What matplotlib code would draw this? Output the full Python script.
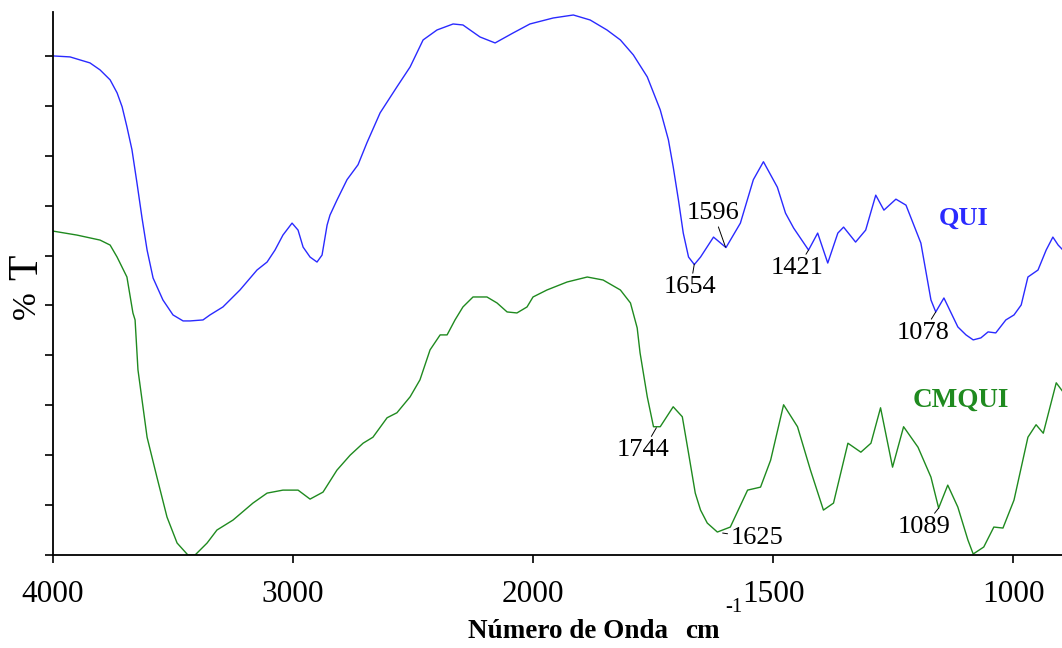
import numpy as np
import matplotlib
matplotlib.use("Agg")
import matplotlib.pyplot as plt

plt.rcParams["font.family"] = ["Liberation Serif", "DejaVu Serif"]

# -----------------------------
# Data
# -----------------------------
qui_wn = [4000, 3929, 3846, 3804, 3762, 3733, 3712, 3692, 3671, 3650, 3629, 3608,
          3583, 3542, 3500, 3458, 3429, 3375, 3346, 3292, 3221, 3150, 3108, 3075,
          3042, 3004, 2979, 2958, 2929, 2900, 2879, 2858, 2846, 2817, 2775, 2729,
          2692, 2637, 2567, 2512, 2458, 2400, 2333, 2292, 2221, 2158, 2083, 2013,
          1958, 1916, 1881, 1846, 1818, 1791, 1762, 1735, 1718, 1708, 1697, 1687,
          1676, 1664, 1651, 1624, 1598, 1568, 1541, 1520, 1491, 1474, 1457, 1426,
          1407, 1386, 1365, 1353, 1328, 1307, 1286, 1269, 1244, 1223, 1192, 1171,
          1161, 1144, 1115, 1098, 1083, 1067, 1052, 1036, 1015, 998, 983, 969,
          948, 931, 917, 906, 896]
qui_t = [10.00, 9.98, 9.86, 9.72, 9.52, 9.26, 8.98, 8.58, 8.12, 7.45, 6.75, 6.11,
         5.55, 5.11, 4.81, 4.69, 4.69, 4.71, 4.81, 4.97, 5.31, 5.71, 5.87, 6.11,
         6.41, 6.65, 6.51, 6.17, 5.97, 5.87, 6.01, 6.61, 6.81, 7.11, 7.52, 7.82,
         8.26, 8.86, 9.38, 9.78, 10.32, 10.52, 10.64, 10.62, 10.38, 10.26, 10.46, 10.64,
         10.76, 10.82, 10.72, 10.52, 10.32, 10.02, 9.58, 8.92, 8.32, 7.78, 7.11, 6.45,
         5.97, 5.82, 5.97, 6.37, 6.16, 6.65, 7.52, 7.88, 7.37, 6.85, 6.55, 6.11,
         6.45, 5.85, 6.45, 6.57, 6.27, 6.51, 7.21, 6.91, 7.13, 7.01, 6.25, 5.11,
         4.87, 5.15, 4.57, 4.41, 4.31, 4.35, 4.47, 4.45, 4.71, 4.81, 5.01, 5.57,
         5.71, 6.11, 6.37, 6.21, 6.11]

cmqui_wn = [4000, 3900, 3804, 3762, 3733, 3692, 3667, 3658, 3646, 3608, 3567, 3525,
            3483, 3438, 3408, 3358, 3317, 3250, 3167, 3108, 3042, 2979, 2929, 2875,
            2817, 2762, 2708, 2667, 2608, 2567, 2512, 2471, 2429, 2387, 2358, 2325,
            2292, 2250, 2192, 2150, 2108, 2067, 2025, 2000, 1971, 1929, 1887, 1854,
            1818, 1797, 1783, 1777, 1762, 1749, 1735, 1708, 1689, 1676, 1662, 1651,
            1637, 1616, 1589, 1553, 1526, 1505, 1478, 1449, 1422, 1395, 1374, 1344,
            1317, 1296, 1276, 1251, 1228, 1198, 1171, 1155, 1136, 1115, 1094, 1083,
            1061, 1040, 1021, 998, 969, 952, 937, 910, 896]
cmqui_t = [6.49, 6.41, 6.31, 6.21, 5.97, 5.57, 4.85, 4.71, 3.71, 2.36, 1.56, 0.76,
           0.24, 0.00, 0.00, 0.24, 0.50, 0.70, 1.04, 1.24, 1.30, 1.30, 1.12, 1.26,
           1.70, 2.00, 2.24, 2.36, 2.75, 2.85, 3.17, 3.51, 4.11, 4.41, 4.41, 4.71,
           4.97, 5.17, 5.17, 5.05, 4.87, 4.85, 4.97, 5.17, 5.31, 5.47, 5.57, 5.51,
           5.31, 5.05, 4.55, 4.05, 3.17, 2.57, 2.57, 2.97, 2.77, 2.04, 1.24, 0.90,
           0.64, 0.46, 0.56, 1.30, 1.36, 1.90, 3.01, 2.57, 1.70, 0.90, 1.04, 2.24,
           2.06, 2.24, 2.95, 1.76, 2.57, 2.16, 1.56, 0.94, 1.40, 0.96, 0.30, 0.02,
           0.16, 0.56, 0.54, 1.10, 2.36, 2.61, 2.44, 3.45, 3.27]

# peak labels: text, point on curve, text position
peak_labels = ["1654", "1596", "1421", "1078", "1744", "1625", "1089"]
peak_xy = [(1664, 5.83), (1599, 6.17), (1426, 6.11), (1161, 4.87),
           (1743, 2.55), (1605, 0.44), (1155, 0.94)]
peak_text_xy = [(1672, 5.37), (1624, 6.85), (1449, 5.75), (1188, 4.45),
                (1770, 2.10), (1534, 0.34), (1186, 0.56)]

x_ticks = [4000, 3000, 2000, 1500, 1000]

BLUE = "#2a2aff"
GREEN = "#1f8a1f"


# -----------------------------
# Helpers
# -----------------------------
def _fwd(x):
    """Spectrometer axis: scale doubles below 2000 cm-1."""
    x = np.asarray(x, dtype=float)
    return np.where(x >= 2000, x, 2 * x - 2000)


def _inv(u):
    u = np.asarray(u, dtype=float)
    return np.where(u >= 2000, u, (u + 2000) / 2)


# -----------------------------
# Plot
# -----------------------------
fig = plt.figure(figsize=(10.62, 6.48), dpi=100)
ax = fig.add_axes([53 / 1062, 93 / 648, 1 - 53 / 1062, 543 / 648])

ax.set_xscale("function", functions=(_fwd, _inv))
ax.plot(qui_wn, qui_t, color=BLUE, lw=1.0)
ax.plot(cmqui_wn, cmqui_t, color=GREEN, lw=1.0)

ax.set_xlim(4000, 898)
ax.set_ylim(0, 10.88)
ax.set_xticks(x_ticks)
ax.set_xticklabels([str(t) for t in x_ticks])
ax.set_yticks(range(0, 11))
ax.set_yticklabels([])
ax.minorticks_off()

for side in ("top", "right"):
    ax.spines[side].set_visible(False)
for side in ("left", "bottom"):
    ax.spines[side].set_linewidth(1.3)

ax.tick_params(axis="both", direction="out", length=6, width=1.2, labelsize=22.5, pad=12)

for lab, xy, txy in zip(peak_labels, peak_xy, peak_text_xy):
    ax.annotate(lab, xy=xy, xytext=txy, ha="center", va="center", fontsize=19,
                arrowprops=dict(arrowstyle="-", lw=0.7, color="black",
                                shrinkA=0, shrinkB=0))

ax.text(1102, 6.75, "QUI", color=BLUE, fontsize=19, fontweight="bold",
        ha="center", va="center")
ax.text(1108, 3.11, "CMQUI", color=GREEN, fontsize=19.5, fontweight="bold",
        ha="center", va="center")

# axis titles
fig.text(468 / 1062, 1 - 638 / 648, "Número de Onda", fontsize=19.5,
         fontweight="bold", ha="left", va="baseline")
fig.text(685 / 1062, 1 - 638 / 648, "cm", fontsize=19.5,
         fontweight="bold", ha="left", va="baseline")
fig.text(725 / 1062, 1 - 612 / 648, "-1", fontsize=15,
         ha="left", va="baseline")
fig.text(27 / 1062, 1 - 305 / 648, "%", fontsize=24, rotation=90,
         ha="center", va="center")
fig.text(27 / 1062, 1 - 267 / 648, "T", fontsize=30, rotation=90,
         ha="center", va="center")

fig.savefig("out.png", dpi=100)
